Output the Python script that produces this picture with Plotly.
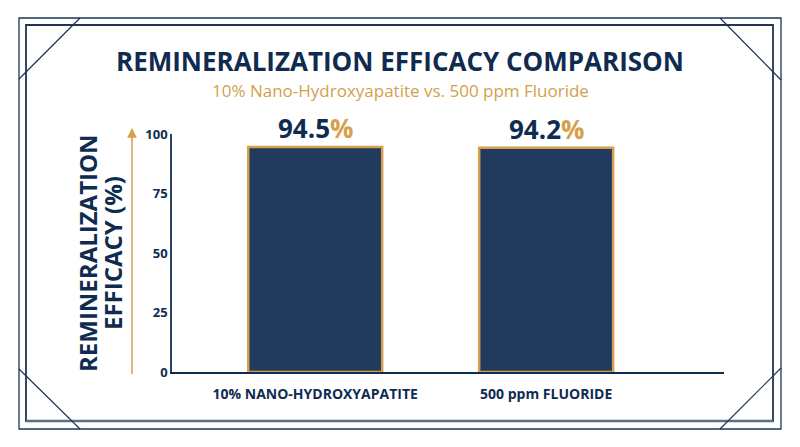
import plotly.graph_objects as go

# data
categories = ["10% NANO-HYDROXYAPATITE", "500 ppm FLUORIDE"]
efficacy = [94.5, 94.2]
y_ticks = [0, 25, 50, 75, 100]

NAVY = "#0f2b4f"
BAR = "#213b5e"
GOLD = "#d5a04c"
FONT = "Open Sans"

W, H = 800, 447
L, R, T, B = 172, 76, 134, 75
pw, ph = W - L - R, H - T - B


def px(x):
    # pixel x -> paper x
    return (x - L) / pw


def py(y):
    # pixel y -> paper y
    return (H - B - y) / ph


def label(x, y, text, size, color, angle=0):
    fig.add_annotation(
        xref="paper", yref="paper", x=px(x), y=py(y),
        xanchor="center", yanchor="middle", textangle=angle,
        text=text, showarrow=False,
        font=dict(family=FONT, size=size, color=color),
    )


fig = go.Figure()

fig.add_trace(go.Bar(
    x=[0, 1],
    y=efficacy,
    width=0.58,
    marker=dict(color=BAR, line=dict(color=GOLD, width=2.5)),
    hoverinfo="skip",
))

# value labels: number in navy, % sign in gold
for i, v in enumerate(efficacy):
    fig.add_annotation(
        x=i, y=v, yshift=19, showarrow=False,
        xanchor="center", yanchor="middle",
        text=f"<b>{v}<span style='color:{GOLD}'>%</span></b>",
        font=dict(family=FONT, size=26, color=NAVY),
    )

shapes = []
# outer frame
shapes.append(dict(type="rect", xref="paper", yref="paper",
                   x0=px(19), x1=px(781), y0=py(429), y1=py(18),
                   line=dict(color="#1e3556", width=1.3)))
# inner frame
shapes.append(dict(type="rect", xref="paper", yref="paper",
                   x0=px(26), x1=px(773), y0=py(421), y1=py(25),
                   line=dict(color="#1e3556", width=1.8)))
shapes.append(dict(type="line", xref="paper", yref="paper",
                   x0=px(26), x1=px(773), y0=py(421), y1=py(421),
                   line=dict(color="#5b6f86", width=2.5)))
# corner diagonals
for (xa, ya, xb, yb) in [(80, 18, 19, 79), (720, 18, 781, 80),
                         (19, 369, 80, 429), (781, 368, 720, 429)]:
    shapes.append(dict(type="line", xref="paper", yref="paper",
                       x0=px(xa), y0=py(ya), x1=px(xb), y1=py(yb),
                       line=dict(color="#1e3556", width=1.2)))
# gold arrow shaft
shapes.append(dict(type="line", xref="paper", yref="paper",
                   x0=px(132), x1=px(132), y0=py(374), y1=py(134),
                   line=dict(color=GOLD, width=1.5)))

fig.add_annotation(
    xref="paper", yref="paper", x=px(132), y=py(128),
    ax=0, ay=12, text="", showarrow=True,
    arrowhead=2, arrowsize=1.3, arrowwidth=1.5, arrowcolor=GOLD,
)

label(400, 61, "<b>REMINERALIZATION EFFICACY COMPARISON</b>", 26, NAVY)
label(400, 90, "10% Nano-Hydroxyapatite vs. 500 ppm Fluoride", 17, GOLD)
label(87, 253, "<b>REMINERALIZATION</b>", 24, NAVY, -90)
label(112, 253, "<b>EFFICACY (%)</b>", 24, NAVY, -90)

fig.update_layout(
    width=W, height=H,
    margin=dict(l=L, r=R, t=T, b=B),
    paper_bgcolor="white", plot_bgcolor="white",
    showlegend=False,
    shapes=shapes,
    font=dict(family=FONT, color=NAVY),
)
fig.update_xaxes(
    tickvals=[0, 1], ticktext=[f"<b>{c}</b>" for c in categories],
    range=[-0.62, 1.77], showgrid=False, zeroline=False,
    showline=True, linecolor=NAVY, linewidth=2,
    tickfont=dict(family=FONT, size=14, color=NAVY), ticks="",
    ticklabelstandoff=8,
)
fig.update_yaxes(
    range=[0, 100], tickvals=y_ticks, ticktext=[f"<b>{t}</b>" for t in y_ticks],
    showgrid=False, zeroline=False,
    showline=True, linecolor="#2b4262", linewidth=1.5,
    tickfont=dict(family=FONT, size=13, color=NAVY), ticks="",
)

fig.write_html("out.html", config={"displayModeBar": False},
               post_script="document.body.style.margin='0';")
